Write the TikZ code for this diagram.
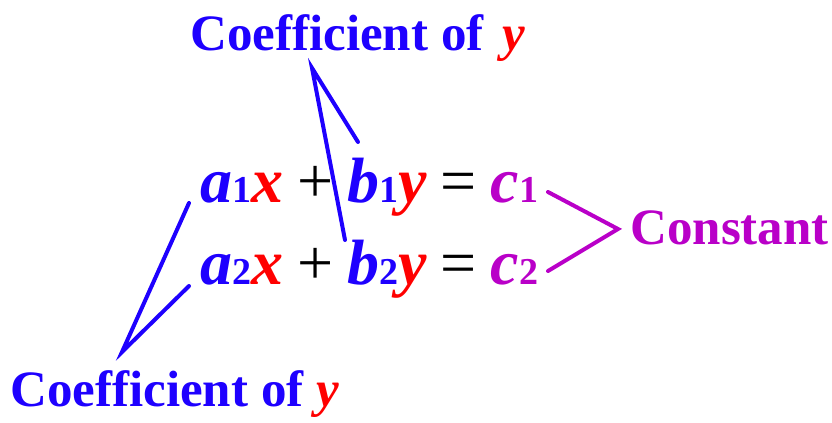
\documentclass[tikz,border=0pt]{standalone}
\usepackage{fontspec}
\setmainfont{Liberation Serif}
\definecolor{coefblue}{RGB}{30,0,255}
\definecolor{varred}{RGB}{255,0,0}
\definecolor{constmag}{RGB}{185,0,200}
\newcommand{\vrb}[2]{\textcolor{#1}{\bfseries\itshape #2}}
\newcommand{\idx}[2]{\textcolor{#1}{\fontsize{19}{19}\selectfont\bfseries #2}}

\begin{document}
\begin{tikzpicture}[x=0.5pt,y=-0.5pt]
  \tikzstyle{every node}+=[inner sep=0pt]
  \tikzstyle{label}=[font=\fontsize{25.5}{27}\selectfont\bfseries, text=coefblue, anchor=base west]
  \tikzstyle{eq}=[font=\fontsize{32}{33}\selectfont, anchor=base west]
  \tikzstyle{arm}=[line width=2pt, line cap=round, line join=miter]
  \useasboundingbox (0,0) rectangle (832,423);
  % labels
  \node[label] (ytop) at (190,50) {Coefficient of\hspace{3pt} \vrb{varred}{y}};
  \node[label] (xbot) at (10,406) {Coefficient of \vrb{varred}{y}};
  \node[label, text=constmag] (const) at (630,244) {Constant};
  % equations
  \node[eq] (eqa) at (200,202) {\vrb{coefblue}{a}\idx{coefblue}{1}\vrb{varred}{x}\hspace{7pt}+\hspace{7pt}\vrb{coefblue}{b}\idx{coefblue}{1}\vrb{varred}{y}\hspace{7pt}=\hspace{7pt}\vrb{constmag}{c}\idx{constmag}{1}};
  \node[eq] (eqb) at (200,285) {\vrb{coefblue}{a}\idx{coefblue}{2}\vrb{varred}{x}\hspace{7pt}+\hspace{7pt}\vrb{coefblue}{b}\idx{coefblue}{2}\vrb{varred}{y}\hspace{7pt}=\hspace{7pt}\vrb{constmag}{c}\idx{constmag}{2}};
  % pointer ends
  \coordinate (ptop) at (312,68);
  \coordinate (b1) at (358,142);
  \coordinate (b2) at (345,240);
  \coordinate (pbot) at (122,352);
  \coordinate (a1) at (189,203);
  \coordinate (a2) at (189,286);
  \coordinate (pcon) at (618,229);
  \coordinate (c1) at (548,192);
  \coordinate (c2) at (548,271);
  \draw[arm, coefblue] (b1) -- (ptop) -- (b2);
  \draw[arm, coefblue] (a1) -- (pbot) -- (a2);
  \draw[arm, constmag] (c1) -- (pcon) -- (c2);
\end{tikzpicture}
\end{document}
